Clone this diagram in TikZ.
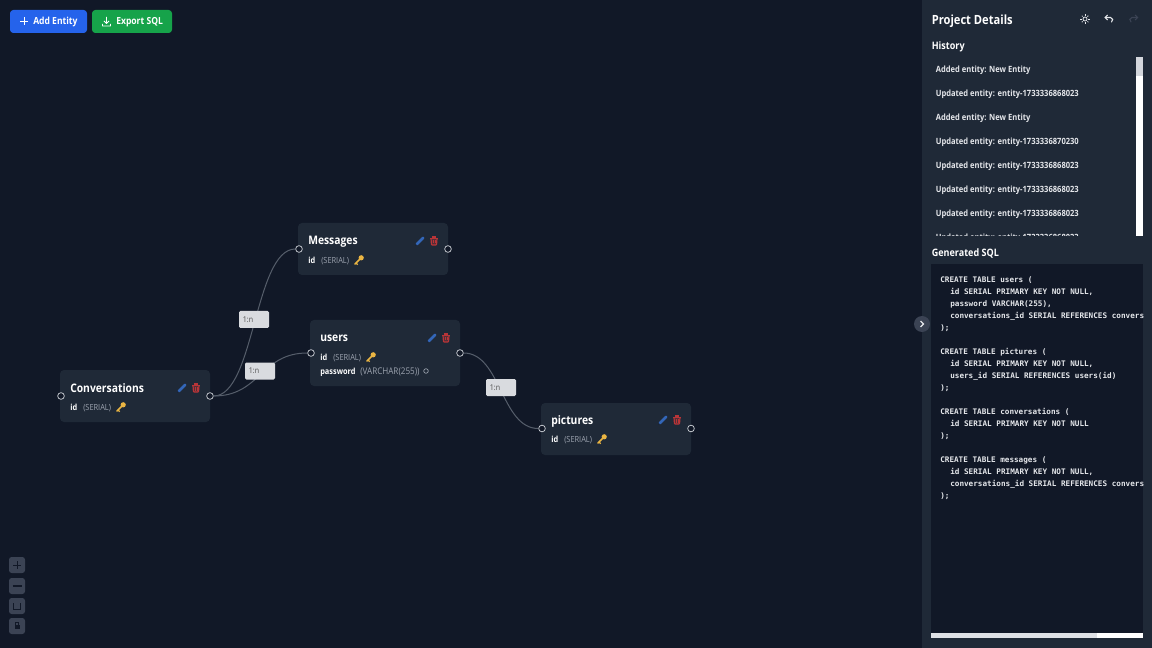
\documentclass[tikz,border=0pt]{standalone}
\usepackage{fontspec}
\setmainfont[FakeStretch=0.88]{Open Sans}
\setmonofont{DejaVu Sans Mono}
\usetikzlibrary{calc}
\definecolor{canvas}{HTML}{111827}
\definecolor{panel}{HTML}{1F2937}
\definecolor{typegray}{HTML}{9CA3AF}
\definecolor{soft}{HTML}{E5E7EB}
\definecolor{labelfill}{HTML}{D9DBDF}
\definecolor{handlecol}{HTML}{C9CDD3}
\definecolor{edgecol}{HTML}{565E6B}
\definecolor{ctrl}{HTML}{3B4354}
\definecolor{ctrlink}{HTML}{111827}
\definecolor{bluebtn}{HTML}{2563EB}
\definecolor{greenbtn}{HTML}{16A34A}
\definecolor{keycol}{HTML}{EAB543}
\definecolor{penblue}{HTML}{3366B8}
\definecolor{trashred}{HTML}{B93538}
\newcommand{\fs}[1]{\fontsize{#1}{#1}\selectfont}
\tikzset{
  x=0.75pt,y=-0.75pt,
  card/.style={fill=panel,rounded corners=3pt},
  handle/.style={circle,draw=handlecol,fill=canvas,line width=0.55pt,minimum size=5pt,inner sep=0pt},
  flow/.style={draw=edgecol,line width=0.75pt},
  edgelabel/.style={fill=labelfill,rounded corners=1pt,minimum width=22.5pt,minimum height=12.75pt,inner sep=0pt,text=black!70,font=\fs{6},align=left},
  title/.style={anchor=base west,yshift=-3pt,inner sep=0pt,text=white,font=\fs{8.8}\bfseries},
  fieldname/.style={anchor=base west,yshift=-2.6pt,inner sep=0pt,text=white,font=\fs{6.3}\bfseries},
  fieldtype/.style={anchor=base west,yshift=-2.6pt,inner sep=0pt,text=typegray,font=\fs{6.3}},
  btntext/.style={anchor=base west,yshift=-2.5pt,inner sep=0pt,text=white,font=\fs{7.3}\bfseries},
  head/.style={anchor=base west,yshift=-2.7pt,inner sep=0pt,text=white,font=\fs{7.7}\bfseries},
  hist/.style={anchor=base west,yshift=-2.9pt,inner sep=0pt,text=soft,font=\fs{6.45}\bfseries},
  sql/.style={anchor=base west,yshift=-2.3pt,inner sep=0pt,text=soft,font=\fs{5.75}\ttfamily\bfseries},
  ctrlbtn/.style={fill=ctrl,rounded corners=2pt},
  keyicon/.pic={
    \draw[keycol,line width=1.1pt,line cap=round] (-4,4) -- (1.5,-1.5);
    \fill[keycol] (2.2,-2.2) circle[radius=2.6];
    \draw[keycol,line width=0.9pt] (-3,3) -- (-1.3,4.7);
  },
  pencil/.pic={
    \draw[penblue,line width=2pt,line cap=round] (-3.3,3.3) -- (3.2,-3.2);
    \fill[canvas] (-4,4) circle[radius=0.7];
  },
  trash/.pic={
    \fill[trashred!35!panel] (-3,-2.5) -- (-2.5,4) -- (2.5,4) -- (3,-2.5) -- cycle;
    \draw[trashred,line width=0.9pt,rounded corners=0.5pt] (-3,-2.5) -- (-2.5,4) -- (2.5,4) -- (3,-2.5);
    \draw[trashred,line width=0.9pt] (-4,-2.8) -- (4,-2.8) (-1.5,-2.8) -- (-1.5,-4) -- (1.5,-4) -- (1.5,-2.8);
    \draw[trashred,line width=0.6pt] (-1,-1) -- (-1,2.5) (1,-1) -- (1,2.5);
  }
}
\begin{document}
\begin{tikzpicture}
\fill[canvas] (0,0) rectangle (1152,648);
\useasboundingbox (0,0) rectangle (1152,648);

% toolbar
\fill[bluebtn,rounded corners=2.5pt] (10,10) rectangle (87,33);
\fill[greenbtn,rounded corners=2.5pt] (92,10) rectangle (172,33);
\draw[white,line width=0.7pt] (20,21.5) -- (28,21.5) (24,17.5) -- (24,25.5);
\draw[white,line width=0.6pt,line join=round] (102.5,24) -- (102.5,26) -- (110.5,26) -- (110.5,24) (106.5,17) -- (106.5,23.5) (104,21) -- (106.5,23.5) -- (109,21);
\node[btntext] (addtext) at (33,21.5) {Add Entity};
\node[btntext] (exporttext) at (116,21.5) {Export SQL};

% cards
\fill[card] (60,370) rectangle (210,422);
\fill[card] (298,223) rectangle (448,275);
\fill[card] (310,320) rectangle (460,386);
\fill[card] (541,403) rectangle (691,455);

% handles
\node[handle] (convL) at (61,396) {};
\node[handle] (convR) at (210,396) {};
\node[handle] (msgL) at (299,249) {};
\node[handle] (msgR) at (448,249) {};
\node[handle] (usrL) at (311,353) {};
\node[handle] (usrR) at (460,353) {};
\node[handle] (picL) at (542,428.5) {};
\node[handle] (picR) at (691,428.5) {};

% connectors
\coordinate (m1) at ($(convR)!0.5!(msgL)$);
\coordinate (m2) at ($(convR)!0.5!(usrL)$);
\coordinate (m3) at ($(usrR)!0.5!(picL)$);
\draw[flow] (convR) .. controls (m1 |- convR) and (m1 |- msgL) .. (msgL);
\draw[flow] (convR) .. controls (m2 |- convR) and (m2 |- usrL) .. (usrL);
\draw[flow] (usrR) .. controls (m3 |- usrR) and (m3 |- picL) .. (picL);
\node[edgelabel] (lab1) at (254,319.5) {\hspace*{-9pt}1:n};
\node[edgelabel] (lab2) at (260,371) {\hspace*{-9pt}1:n};
\node[edgelabel] (lab3) at (501,387.5) {\hspace*{-9pt}1:n};

% card contents
\node[title] (t1) at (70,388) {Conversations};
\node[fieldname] (f1) at (70,407) {id};
\node[fieldtype] (g1) at (83,407) {(SERIAL)};
\pic at (121,407) {keyicon};
\pic at (182,388) {pencil};
\pic at (196,388) {trash};

\node[title] (t2) at (308,241) {Messages};
\node[fieldname] (f2) at (308,260) {id};
\node[fieldtype] (g2) at (321,260) {(SERIAL)};
\pic at (359,260) {keyicon};
\pic at (420,241) {pencil};
\pic at (434,241) {trash};

\node[title] (t3) at (320,338) {users};
\node[fieldname] (f3) at (320,357) {id};
\node[fieldtype] (g3) at (333,357) {(SERIAL)};
\pic at (371,357) {keyicon};
\node[fieldname] (f4) at (320,371) {password};
\node[fieldtype,font=\fs{6.9}] (g4) at (360,371) {(VARCHAR(255))};
\draw[typegray,line width=0.5pt] (426,371) circle[radius=2.3];
\pic at (432,338) {pencil};
\pic at (446,338) {trash};

\node[title] (t4) at (551,420) {pictures};
\node[fieldname] (f5) at (551,439) {id};
\node[fieldtype] (g5) at (564,439) {(SERIAL)};
\pic at (602,439) {keyicon};
\pic at (663,420) {pencil};
\pic at (677,420) {trash};

% zoom controls
\fill[ctrlbtn] (9,557) rectangle (25,573);
\fill[ctrlbtn] (9,578) rectangle (25,594);
\fill[ctrlbtn] (9,598) rectangle (25,614);
\fill[ctrlbtn] (9,618) rectangle (25,634);
\draw[ctrlink,line width=0.7pt] (13,565) -- (21,565) (17,561) -- (17,569);
\draw[ctrlink,line width=1pt] (12.5,586) -- (21.5,586);
\draw[ctrlink,line width=0.6pt] (13.5,603) -- (13.5,609.5) -- (20.5,609.5) -- (20.5,603);
\fill[ctrlink] (14.5,624.5) rectangle (19.5,629);
\draw[ctrlink,line width=0.6pt] (15.5,624.5) -- (15.5,622.5) -- (18.5,622.5) -- (18.5,624.5);

% sidebar
\fill[panel] (922,0) rectangle (1152,648);
\fill[canvas] (931,264) rectangle (1143,638);
\node[head,font=\fs{9.5}\bfseries] (ptitle) at (931.5,20.5) {Project Details};
\node[head] (hhist) at (931.5,45.5) {History};
\node[head] (hsql) at (931.5,252.5) {Generated SQL};

% panel icons
\draw[soft,line width=0.55pt] (1085,19) circle[radius=2];
\foreach \a in {0,45,...,315} \draw[soft,line width=0.55pt] ($(1085,19)+(\a:3.4)$) -- ($(1085,19)+(\a:4.6)$);
\draw[soft,line width=0.8pt,line cap=round] (1105.5,17.5) -- (1110.5,17.5) .. controls (1113,17.5) and (1113.5,21) .. (1111.5,22);
\draw[soft,line width=0.8pt] (1107.5,15) -- (1105,17.5) -- (1107.5,20);
\draw[ctrl,line width=0.8pt,line cap=round] (1137,17.5) -- (1132,17.5) .. controls (1129.5,17.5) and (1129,21) .. (1131,22);
\draw[ctrl,line width=0.8pt] (1135,15) -- (1137.5,17.5) -- (1135,20);

% history
\begin{scope}
\clip (931,56) rectangle (1135,236);
\node[hist] (h1) at (935.5,69) {Added entity: New Entity};
\node[hist] (h2) at (935.5,93) {Updated entity: entity-1733336868023};
\node[hist] (h3) at (935.5,117) {Added entity: New Entity};
\node[hist] (h4) at (935.5,141) {Updated entity: entity-1733336870230};
\node[hist] (h5) at (935.5,165) {Updated entity: entity-1733336868023};
\node[hist] (h6) at (935.5,189) {Updated entity: entity-1733336868023};
\node[hist] (h7) at (935.5,213) {Updated entity: entity-1733336868023};
\node[hist] (h8) at (935.5,237) {Updated entity: entity-1733336868023};
\end{scope}
\fill[white] (1136,57) rectangle (1143,236);
\fill[soft!75!typegray] (1136,57) rectangle (1143,76);

% sql
\node[sql] (s1) at (940,279) {CREATE TABLE users (};
\node[sql] (s2) at (950,291) {id SERIAL PRIMARY KEY NOT NULL,};
\node[sql] (s3) at (950,303) {password VARCHAR(255),};
\node[sql] (s4) at (950,315) {conversations\_id SERIAL REFERENCES convers};
\node[sql] (s5) at (940,327) {);};
\node[sql] (s6) at (940,351) {CREATE TABLE pictures (};
\node[sql] (s7) at (950,363) {id SERIAL PRIMARY KEY NOT NULL,};
\node[sql] (s8) at (950,375) {users\_id SERIAL REFERENCES users(id)};
\node[sql] (s9) at (940,387) {);};
\node[sql] (s10) at (940,411) {CREATE TABLE conversations (};
\node[sql] (s11) at (950,423) {id SERIAL PRIMARY KEY NOT NULL};
\node[sql] (s12) at (940,435) {);};
\node[sql] (s13) at (940,459) {CREATE TABLE messages (};
\node[sql] (s14) at (950,471) {id SERIAL PRIMARY KEY NOT NULL,};
\node[sql] (s15) at (950,483) {conversations\_id SERIAL REFERENCES convers};
\node[sql] (s16) at (940,495) {);};
\fill[white] (931,633) rectangle (1143,638);
\fill[soft!90!typegray] (931,633) rectangle (1097,638);

% collapse button
\fill[ctrl] (922,324) circle[radius=8];
\draw[soft,line width=0.9pt] (920.5,321) -- (923.5,324) -- (920.5,327);
\end{tikzpicture}
\end{document}
